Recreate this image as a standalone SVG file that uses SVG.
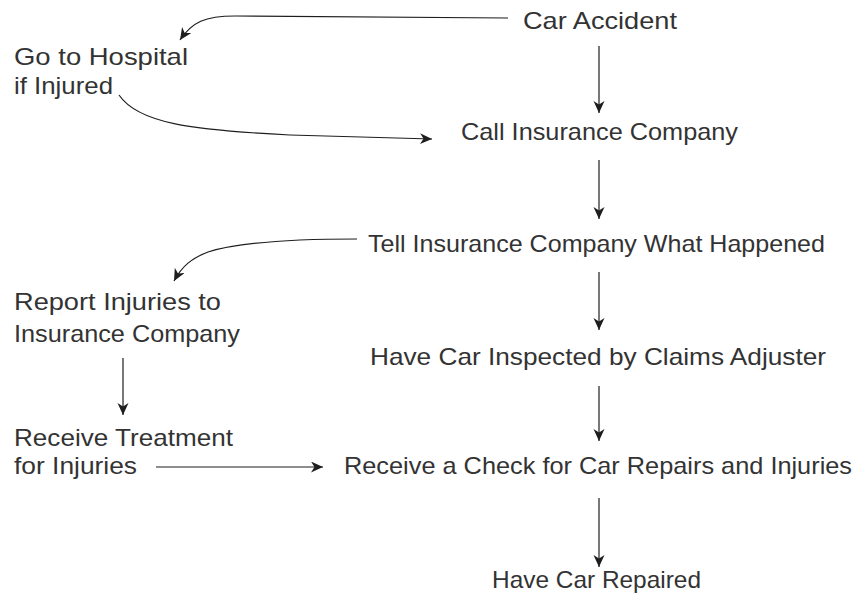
<svg xmlns="http://www.w3.org/2000/svg" width="859" height="599" viewBox="0 0 859 599">
<style>
  .lbl { font-family: "Liberation Sans", Arial, sans-serif; font-size: 24px; fill: #333333; }
  .con { fill: none; stroke: #1e1e1e; stroke-width: 1.2; }
</style>
<defs>
  <marker id="ah" markerUnits="userSpaceOnUse" markerWidth="14" markerHeight="13" refX="12" refY="5.5" orient="auto">
    <path d="M0,0 L12,5.5 L0,11 L3.5,5.5 Z" fill="#1e1e1e"/>
  </marker>
</defs>
<rect width="859" height="599" fill="#ffffff"/>
<g id="connectors">
  <path class="con" marker-end="url(#ah)" d="M508,18 L235,16 C205,16 192,22 180,40"/>
  <path class="con" marker-end="url(#ah)" d="M119,95 C138,123 190,130 290,135 L432,139"/>
  <path class="con" d="M599,46 L599,113" marker-end="url(#ah)"/>
  <path class="con" d="M599,160 L599,219" marker-end="url(#ah)"/>
  <path class="con" marker-end="url(#ah)" d="M357,239 C300,239 240,242 208,252 C192,258 182,266 174,281"/>
  <path class="con" d="M599,272 L599,330" marker-end="url(#ah)"/>
  <path class="con" d="M599,386 L599,441" marker-end="url(#ah)"/>
  <path class="con" d="M123,358 L123,415" marker-end="url(#ah)"/>
  <path class="con" d="M156,467 L323,467" marker-end="url(#ah)"/>
  <path class="con" d="M599,498 L599,567" marker-end="url(#ah)"/>
</g>
<g id="car-accident"><text class="lbl" x="523" y="29" textLength="154" lengthAdjust="spacingAndGlyphs">Car Accident</text></g>
<g id="go-to-hospital">
  <text class="lbl" x="14" y="65" textLength="174" lengthAdjust="spacingAndGlyphs">Go to Hospital</text>
  <text class="lbl" x="14" y="94" textLength="99" lengthAdjust="spacingAndGlyphs">if Injured</text>
</g>
<g id="call-insurance"><text class="lbl" x="461" y="140" textLength="277" lengthAdjust="spacingAndGlyphs">Call Insurance Company</text></g>
<g id="tell-insurance"><text class="lbl" x="368" y="252" textLength="457" lengthAdjust="spacingAndGlyphs">Tell Insurance Company What Happened</text></g>
<g id="report-injuries">
  <text class="lbl" x="14" y="310" textLength="207" lengthAdjust="spacingAndGlyphs">Report Injuries to</text>
  <text class="lbl" x="14" y="342" textLength="226" lengthAdjust="spacingAndGlyphs">Insurance Company</text>
</g>
<g id="have-car-inspected"><text class="lbl" x="370" y="365" textLength="456" lengthAdjust="spacingAndGlyphs">Have Car Inspected by Claims Adjuster</text></g>
<g id="receive-treatment">
  <text class="lbl" x="14" y="446" textLength="219" lengthAdjust="spacingAndGlyphs">Receive Treatment</text>
  <text class="lbl" x="14" y="474" textLength="123" lengthAdjust="spacingAndGlyphs">for Injuries</text>
</g>
<g id="receive-check"><text class="lbl" x="344" y="474" textLength="508" lengthAdjust="spacingAndGlyphs">Receive a Check for Car Repairs and Injuries</text></g>
<g id="have-car-repaired"><text class="lbl" x="492" y="588" textLength="209" lengthAdjust="spacingAndGlyphs">Have Car Repaired</text></g>
</svg>
